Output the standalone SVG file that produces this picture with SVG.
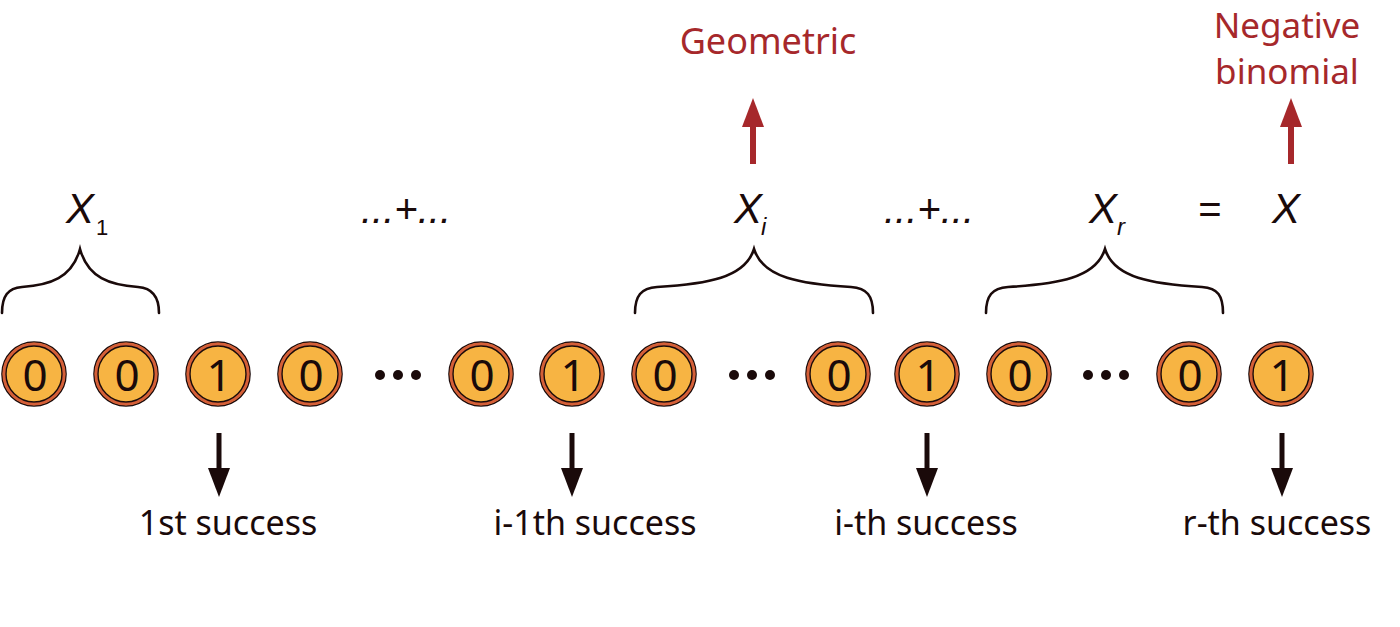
<svg xmlns="http://www.w3.org/2000/svg" xmlns:xlink="http://www.w3.org/1999/xlink" width="1400" height="627" viewBox="0 0 1400 627">
<style>
.coin-face{fill:#f7b443;stroke:#1a0a0a;stroke-width:1.6}
.coin-ring{fill:none;stroke:#d55f38;stroke-width:3.4}
.coin-inner{fill:none;stroke:#1a0a0a;stroke-width:1.4}
.digit{font-family:"Noto Sans","Open Sans",sans-serif;font-size:44px;fill:#1a0a0a;text-anchor:middle}
.dot{fill:#1a0a0a}
.brace{fill:none;stroke:#1a0a0a;stroke-width:2.6;stroke-linecap:round}
.var{font-family:"Liberation Sans",Arial,sans-serif;font-style:italic;font-size:42px;fill:#1a0a0a}
.sub{font-family:"Liberation Sans",Arial,sans-serif;font-size:22px;fill:#1a0a0a}
.subi{font-family:"Liberation Sans",Arial,sans-serif;font-style:italic;font-size:24px;fill:#1a0a0a}
.op{font-family:"Liberation Sans",Arial,sans-serif;font-style:italic;font-size:40px;fill:#1a0a0a;text-anchor:middle}
.red{font-family:"Noto Sans","Open Sans",sans-serif;font-size:36px;fill:#a6282b;text-anchor:middle}
.lbl{font-family:"Noto Sans","Open Sans",sans-serif;font-size:34px;fill:#1a0a0a;text-anchor:middle}
.up{stroke:#a6282b;stroke-width:6;fill:none}
.down{stroke:#1a0a0a;stroke-width:5;fill:none}
</style>
<defs>
<marker id="headRed" markerUnits="userSpaceOnUse" viewBox="0 0 29 22" markerWidth="29" markerHeight="22" refX="0" refY="11" orient="auto">
<path d="M0,0 L29,11 L0,22 Z" fill="#a6282b"/>
</marker>
<marker id="headBlack" markerUnits="userSpaceOnUse" viewBox="0 0 29 22" markerWidth="29" markerHeight="22" refX="0" refY="11" orient="auto">
<path d="M0,0 L29,11 L0,22 Z" fill="#1a0a0a"/>
</marker>
<g id="coinShape">
<circle r="32" class="coin-face"/>
<circle r="29.9" class="coin-ring"/>
<circle r="28" class="coin-inner"/>
</g>
</defs>
<rect width="1400" height="627" fill="#ffffff"/>

<g id="coins">
<g id="c1"><use xlink:href="#coinShape" x="34" y="374"/><text class="digit" x="35" y="391">0</text></g>
<g id="c2"><use xlink:href="#coinShape" x="126" y="374"/><text class="digit" x="127" y="391">0</text></g>
<g id="c3"><use xlink:href="#coinShape" x="218" y="374"/><text class="digit" x="219" y="391">1</text></g>
<g id="c4"><use xlink:href="#coinShape" x="310" y="374"/><text class="digit" x="311" y="391">0</text></g>
<g id="c5"><use xlink:href="#coinShape" x="481" y="374"/><text class="digit" x="482" y="391">0</text></g>
<g id="c6"><use xlink:href="#coinShape" x="572" y="374"/><text class="digit" x="573" y="391">1</text></g>
<g id="c7"><use xlink:href="#coinShape" x="664" y="374"/><text class="digit" x="665" y="391">0</text></g>
<g id="c8"><use xlink:href="#coinShape" x="838" y="374"/><text class="digit" x="839" y="391">0</text></g>
<g id="c9"><use xlink:href="#coinShape" x="927" y="374"/><text class="digit" x="928" y="391">1</text></g>
<g id="c10"><use xlink:href="#coinShape" x="1019" y="374"/><text class="digit" x="1020" y="391">0</text></g>
<g id="c11"><use xlink:href="#coinShape" x="1189" y="374"/><text class="digit" x="1190" y="391">0</text></g>
<g id="c12"><use xlink:href="#coinShape" x="1281" y="374"/><text class="digit" x="1282" y="391">1</text></g>
</g>

<g id="ellipses">
<circle class="dot" cx="380" cy="375" r="5"/><circle class="dot" cx="398" cy="375" r="5"/><circle class="dot" cx="416" cy="375" r="5"/>
<circle class="dot" cx="734" cy="375" r="5"/><circle class="dot" cx="752" cy="375" r="5"/><circle class="dot" cx="770" cy="375" r="5"/>
<circle class="dot" cx="1088" cy="375" r="5"/><circle class="dot" cx="1106" cy="375" r="5"/><circle class="dot" cx="1124" cy="375" r="5"/>
</g>

<g id="braces">
<path class="brace" d="M2,313 C2,296 8,288 22,287 C50,285 72,278 80,249 C88,278 110,285 138,287 C152,288 159,296 159,313"/>
<path class="brace" d="M635,313 C635,296 641,288 657,287 C707,284 745,278 754,249 C763,278 801,284 851,287 C867,288 873,296 873,313"/>
<path class="brace" d="M986,313 C986,296 992,288 1008,287 C1058,284 1096,278 1105,249 C1114,278 1152,284 1202,287 C1218,288 1223,296 1223,313"/>
</g>

<g id="formula">
<g id="X1"><text class="var" x="66" y="223">X</text><text class="sub" x="96" y="235">1</text></g>
<text id="plus1" class="op" x="406" y="223">...+...</text>
<g id="Xi"><text class="var" x="734" y="223">X</text><text class="subi" x="761" y="235">i</text></g>
<text id="plus2" class="op" x="929" y="223">...+...</text>
<g id="Xr"><text class="var" x="1089" y="223">X</text><text class="subi" x="1117" y="235">r</text></g>
<text id="eq" class="op" x="1210" y="223" style="font-style:normal">=</text>
<text id="X" class="var" x="1272" y="223">X</text>
</g>

<g id="distributions">
<text id="geo" class="red" x="768" y="54">Geometric</text>
<g id="negbin"><text class="red" x="1287" y="38" style="font-size:35px">Negative</text><text class="red" x="1287" y="84" style="font-size:35px">binomial</text></g>
</g>

<g id="connectors">
<line class="up" x1="753" y1="164" x2="753" y2="127" marker-end="url(#headRed)"/>
<line class="up" x1="1291" y1="164" x2="1291" y2="127" marker-end="url(#headRed)"/>
<line class="down" x1="219" y1="433" x2="219" y2="468" marker-end="url(#headBlack)"/>
<line class="down" x1="572" y1="433" x2="572" y2="468" marker-end="url(#headBlack)"/>
<line class="down" x1="927" y1="433" x2="927" y2="468" marker-end="url(#headBlack)"/>
<line class="down" x1="1282" y1="433" x2="1282" y2="468" marker-end="url(#headBlack)"/>
</g>

<g id="labels">
<text class="lbl" x="228" y="535">1st success</text>
<text class="lbl" x="595" y="535">i-1th success</text>
<text class="lbl" x="926" y="535">i-th success</text>
<text class="lbl" x="1277" y="535">r-th success</text>
</g>
</svg>
